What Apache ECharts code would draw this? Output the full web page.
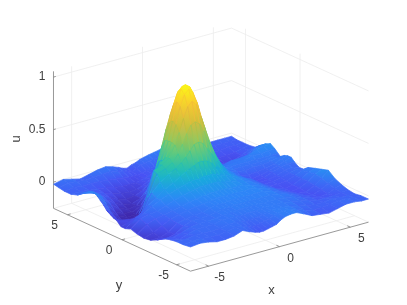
<!DOCTYPE html>
<html><head><meta charset="utf-8">
<style>html,body{margin:0;padding:0;background:#fff}#c{width:407px;height:305px}</style>
<script src="https://cdn.jsdelivr.net/npm/echarts@6/dist/echarts.min.js"></script>
</head><body><div id="c"></div>
<script>
const xs=[-6.28,-5.6,-5,-4.4,-3.8,-3.2,-2.6,-2.1,-1.7,-1.4,-1.1,-.8,-.5,-.2,.1,.4,.8,1.2,1.7,2.3,2.9,3.5,4.1,4.7,5.3,5.8,6.28];
const ys=[-6.28,-5.6,-5,-4.4,-3.8,-3.2,-2.6,-2,-1.4,-.8,-.3,.1,.5,.8,1.1,1.4,1.7,2,2.3,2.7,3.1,3.6,4.1,4.7,5.3,5.8,6.28];
// u in hundredths, one row per y
const uHundredths=[
[-2,-1,-2,-4,-4,-3,0,-3,-5,-6,-6,-5,-4,-3,0,2,3,3,0,-4,-5,-6,-4,-2,-2,-3,-3],
[-3,-2,-2,-3,-3,-2,0,-1,-3,-4,-4,-3,-2,-1,1,2,3,3,1,-2,-4,-4,-3,-2,-2,-3,-3],
[-3,-3,-2,-2,-2,-2,0,0,-1,-2,-2,-1,-1,0,1,2,2,2,1,-1,-3,-4,-4,-3,-4,-4,-4],
[-4,-6,-3,-1,-1,-1,1,1,1,0,0,1,1,1,2,2,2,2,2,0,-1,-3,-5,-5,-5,-4,-3],
[-6,-7,-5,-2,-1,-1,0,1,1,1,2,2,2,2,2,2,2,2,2,1,0,-3,-5,-7,-6,-3,-1],
[-10,-11,-9,-4,-1,-1,0,1,2,2,2,3,3,3,3,3,3,3,3,2,0,-3,-6,-8,-5,-1,2],
[-13,-13,-10,-4,-2,-1,0,2,3,3,3,4,4,4,4,4,4,4,4,2,-1,-4,-7,-8,-4,1,7],
[-14,-11,-7,-3,-1,1,2,3,4,4,5,5,5,5,5,5,5,5,4,2,-1,-5,-8,-7,-3,2,5],
[-13,-6,-3,-2,0,2,4,5,6,6,7,7,7,7,7,6,6,6,4,2,-2,-6,-8,-7,-3,1,3],
[-11,-4,-2,-1,2,5,7,9,10,11,11,11,11,11,10,9,8,7,5,2,-2,-6,-7,-6,-3,0,1],
[-13,-6,-3,1,5,8,11,13,15,15,15,16,16,16,15,13,11,9,6,2,-2,-7,-7,-5,-3,-1,-3],
[-13,-10,-7,0,5,11,15,19,22,24,26,28,28,27,24,19,15,11,6,2,-2,-7,-7,-5,-2,-1,-3],
[-9,-11,-12,-8,8,16,21,25,29,33,38,43,44,42,36,30,21,12,6,1,-4,-8,-7,-4,-1,0,0],
[-8,-14,-17,-13,2,22,25,29,36,44,53,60,62,59,51,41,29,18,8,2,-4,-7,-6,-4,-1,1,3],
[-6,-15,-20,-19,-8,24,27,32,43,54,66,76,80,76,64,52,35,21,9,2,-3,-5,-4,-3,-1,2,3],
[-4,-14,-20,-21,-16,12,26,31,44,60,76,86,90,86,75,60,40,23,9,2,-1,-2,-1,-1,0,2,2],
[0,-12,-19,-21,-18,-4,14,27,44,62,79,90,93,90,79,63,42,24,10,3,0,0,0,0,1,1,-2],
[3,-9,-17,-20,-20,-12,3,25,43,59,75,86,90,86,75,60,40,22,8,2,1,1,1,1,1,1,1],
[6,-5,-14,-18,-19,-15,-4,18,36,51,64,75,79,75,64,52,34,18,6,0,1,2,2,3,3,4,4],
[8,0,-9,-15,-18,-17,-9,4,18,28,39,48,51,49,42,33,20,10,3,-2,-1,1,1,2,5,6,7],
[6,1,-6,-12,-16,-17,-14,-7,1,9,16,22,24,24,21,16,9,4,0,-3,-4,-4,-5,-4,1,5,5],
[2,0,-4,-9,-13,-15,-14,-11,-7,-4,0,5,7,7,5,2,-1,-3,-4,-6,-7,-8,-9,-10,-4,0,1],
[-2,-2,-4,-7,-10,-12,-13,-12,-10,-8,-6,-4,-2,-2,-3,-4,-5,-6,-6,-7,-8,-9,-10,-10,-7,-4,-3],
[-4,-4,-5,-6,-7,-9,-10,-10,-10,-9,-8,-7,-6,-6,-6,-6,-6,-6,-7,-7,-8,-8,-8,-8,-7,-5,-4],
[-4,-3,-4,-4,-4,-5,-6,-7,-8,-8,-8,-7,-6,-5,-4,-4,-4,-3,-4,-5,-5,-6,-6,-6,-5,-5,-4],
[-3,-1,-2,-3,-2,-2,-1,-3,-5,-6,-7,-5,-3,-2,-1,-1,0,0,-1,-2,-3,-3,-4,-4,-4,-4,-4],
[-2,0,-2,-4,-2,0,1,-1,-3,-5,-6,-4,-3,-1,0,1,2,3,2,1,0,-1,-2,-3,-3,-3,-3]
];
const xTicks=[-5,0,5], yTicks=[-5,0,5], uTicks=[0,0.5,1];
const xLabels=['-5','0','5'], yLabels=['-5','0','5'], uLabels=['0','0.5','1'];
const xLim=[-6.283,6.283], yLim=[-6.283,6.283], uLim=[-0.25,1.055];

// orthographic view of the box
function project(x,y,u){return [211+14.17*x-10.9*y, 189-3.9*x-5*y-105*u];}

const stops=[[0,[62,38,168]],[.11,[72,82,244]],[.22,[45,135,247]],[.33,[18,177,214]],[.44,[55,200,151]],[.56,[134,203,102]],[.67,[190,190,60]],[.78,[240,185,60]],[.89,[253,205,45]],[1,[249,251,21]]];
const cMin=-0.2,cMax=0.93;
function colorOf(u){
  let t=Math.max(0,Math.min(1,(u-cMin)/(cMax-cMin)));
  for(let k=1;k<stops.length;k++){ if(t<=stops[k][0]){
    const a=stops[k-1],b=stops[k],f=(t-a[0])/(b[0]-a[0]);
    return 'rgb('+[0,1,2].map(c=>Math.round(a[1][c]+(b[1][c]-a[1][c])*f)).join(',')+')';}}
  return 'rgb(249,251,21)';
}

const cells=[];
for(let j=0;j<ys.length-1;j++)for(let i=0;i<xs.length-1;i++){
  cells.push([i,j,3.9*(xs[i]+xs[i+1])+5*(ys[j]+ys[j+1])]);
}
cells.sort((a,b)=>b[2]-a[2]);

function surfaceItem(p,api){
  const i=api.value(0),j=api.value(1);
  const corners=[[i,j],[i+1,j],[i+1,j+1],[i,j+1]];
  const us=corners.map(c=>uHundredths[c[1]][c[0]]/100);
  const pts=corners.map((c,k)=>api.coord(project(xs[c[0]],ys[c[1]],us[k])));
  const hi=Math.max(...us),lo=Math.min(...us),mid=(hi+lo)/2;
  const fill=(hi-lo)<0.015?colorOf(mid):{type:'linear',x:0,y:0,x2:0,y2:1,colorStops:[{offset:0,color:colorOf(hi)},{offset:1,color:colorOf(lo)}]};
  return {type:'polygon',shape:{points:pts},style:{fill:fill,stroke:colorOf(mid),lineWidth:0.7}};
}

// frame segments
const segs=[],grid='#ececec',axisC='#7f7f7f';
const [x0,x1]=xLim,[y0,y1]=yLim,[u0,u1]=uLim;
xTicks.forEach(v=>{segs.push([v,y0,u0,v,y1,u0,grid],[v,y1,u0,v,y1,u1,grid]);});
yTicks.forEach(v=>{segs.push([x0,v,u0,x1,v,u0,grid]); if(v>-5)segs.push([x1,v,u0,x1,v,u1,grid]);});
uTicks.forEach(v=>{segs.push([x0,y1,v,x1,y1,v,grid],[x1,y1,v,x1,y0,v,grid]);});
segs.push([x0,y1,u0,x1,y1,u0,grid],[x1,y1,u0,x1,y0,u0,grid]);
segs.push([x0,y1,u0,x0,y1,u1,axisC],[x0,y1,u0,x0,y0,u0,axisC],[x0,y0,u0,x1,y0,u0,axisC]);
uTicks.forEach(v=>segs.push([x0,y1,v,x0+0.16,y1,v,axisC]));
yTicks.forEach(v=>segs.push([x0,v,u0,x0+0.22,v,u0,axisC]));
xTicks.forEach(v=>segs.push([v,y0,u0,v,y0+0.28,u0,axisC]));

function segItem(p,api){
  const s=segs[p.dataIndex];
  const a=api.coord(project(s[0],s[1],s[2])),b=api.coord(project(s[3],s[4],s[5]));
  return {type:'line',shape:{x1:a[0],y1:a[1],x2:b[0],y2:b[1]},style:{stroke:s[6],lineWidth:0.8}};
}

const textFont='Liberation Sans';
const texts=[];
uTicks.forEach((v,k)=>texts.push({t:uLabels[k],p:project(x0,y1,v),dx:-8,dy:0,a:'right',s:12}));
yTicks.forEach((v,k)=>texts.push({t:yLabels[k],p:project(x0,v,u0),dx:-13,dy:11,a:'center',s:12}));
xTicks.forEach((v,k)=>texts.push({t:xLabels[k],p:project(v,y0,u0),dx:11,dy:12,a:'center',s:12}));
texts.push({t:'x',p:project(0,y0,u0),dx:-8,dy:44,a:'center',s:13});
texts.push({t:'y',p:project(x0,0,u0),dx:-3,dy:46,a:'center',s:13});
function textItem(p,api){
  const d=texts[p.dataIndex],c=api.coord(d.p);
  return {type:'text',x:c[0]+d.dx,y:c[1]+d.dy,style:{text:d.t,fill:'#404040',font:d.s+'px "'+textFont+'"',textAlign:d.a,textVerticalAlign:'middle'}};
}
function uTitle(p,api){
  const c=api.coord([16,139]);
  return {type:'text',x:c[0],y:c[1],rotation:Math.PI/2,style:{text:'u',fill:'#404040',font:'13px "'+textFont+'"',textAlign:'center',textVerticalAlign:'middle'}};
}

const chart=echarts.init(document.getElementById('c'));
chart.setOption({
  animation:false,backgroundColor:'#fff',
  grid:{left:0,right:0,top:0,bottom:0},
  xAxis:{type:'value',min:0,max:407,show:false},
  yAxis:{type:'value',min:0,max:305,inverse:true,show:false},
  series:[
    {type:'custom',coordinateSystem:'cartesian2d',data:segs.map((s,i)=>[i]),renderItem:segItem,silent:true,clip:false,z:1,encode:{x:[],y:[]}},
    {type:'custom',coordinateSystem:'cartesian2d',data:cells,renderItem:surfaceItem,silent:true,clip:false,z:2,encode:{x:[],y:[]}},
    {type:'custom',coordinateSystem:'cartesian2d',data:texts.map((s,i)=>[i]),renderItem:textItem,silent:true,clip:false,z:3,encode:{x:[],y:[]}},
    {type:'custom',coordinateSystem:'cartesian2d',data:[[0]],renderItem:uTitle,silent:true,clip:false,z:3,encode:{x:[],y:[]}}
  ]
});
</script></body></html>
